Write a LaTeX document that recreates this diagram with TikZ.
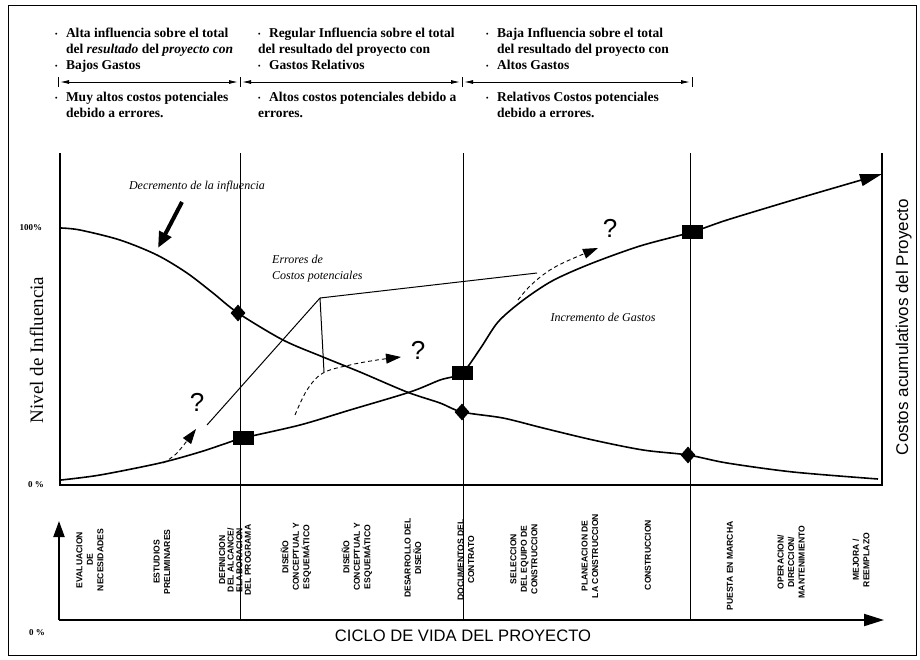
\documentclass[tikz,border=0pt]{standalone}
\usepackage{fontspec}
\setmainfont{Liberation Serif}
\newfontfamily\arialf{Liberation Sans}
\usetikzlibrary{arrows.meta,shapes.geometric}
\newcommand\tbul{\makebox[0.8em][l]{\raisebox{0.2ex}{\fontsize{7}{7}\selectfont\textbullet}}}
\newcommand\tind{\hspace*{0.8em}}
\begin{document}
\begin{tikzpicture}[x=1pt,y=-1pt,
  curve/.style={line width=1.6pt, line join=round},
  thinline/.style={line width=1pt},
  divider/.style={line width=0.9pt},
  axisline/.style={line width=1.4pt},
  dasharrow/.style={dash pattern=on 4pt off 3pt, line width=0.9pt, -{Triangle[length=15pt,width=10pt]}},
  diam/.style={diamond, fill=black, inner sep=0pt, minimum width=15pt, minimum height=17pt},
  sq/.style={rectangle, fill=black, inner sep=0pt, minimum width=21pt, minimum height=14pt},
  toptext/.style={align=left, anchor=north west, inner sep=0pt, font=\bfseries\fontsize{13.5}{16}\selectfont},
  phase/.style={rotate=90, align=center, inner sep=0pt, font=\arialf\bfseries\fontsize{8.6}{10.5}\selectfont},
  qmark/.style={font=\arialf\fontsize{26}{26}\selectfont, inner sep=0pt},
  note/.style={font=\itshape\fontsize{12}{16}\selectfont, inner sep=0pt},
  pct/.style={font=\bfseries\fontsize{9}{9}\selectfont, inner sep=0pt},
  toparrow/.style={line width=0.9pt, {Latex[length=9pt,width=4pt]}-{Latex[length=9pt,width=4pt]}, shorten <=2pt, shorten >=2pt},
  bigarrow/.style={line width=2pt, -{Triangle[length=20pt,width=12pt]}},
  uparrow/.style={line width=2pt, -{Triangle[length=16pt,width=11pt]}}
]
\useasboundingbox (0,0) rectangle (920,659);
\fill[white] (0,0) rectangle (920,659);
% outer frame
\draw[line width=1pt] (8,5) rectangle (916,655);

% ---------- top texts ----------
\node[toptext] (b1a) at (55,28) {\tbul Alta influencia sobre el total\\
\tind del \textit{resultado} del \textit{proyecto con}\\
\tbul Bajos Gastos};
\node[toptext] (b1b) at (55,92) {\tbul Muy altos costos potenciales\\
\tind debido a errores.};
\node[toptext] (b2a) at (258,28) {\tbul Regular Influencia sobre el total\\
del resultado del proyecto con\\
\tbul Gastos Relativos};
\node[toptext] (b2b) at (258,92) {\tbul Altos costos potenciales debido a\\
errores.};
\node[toptext] (b3a) at (486,28) {\tbul Baja Influencia sobre el total\\
\tind del resultado del proyecto con\\
\tbul Altos Gastos};
\node[toptext] (b3b) at (486,92) {\tbul Relativos Costos potenciales\\
\tind debido a errores.};

% top dimension arrows
\coordinate (t0) at (58,82);
\coordinate (t1) at (240,82);
\coordinate (t2) at (462,82);
\coordinate (t3) at (692,82);
\foreach \t in {t0,t1,t2,t3} \draw[line width=0.9pt] (\t) ++(0,-5) -- ++(0,10);
\draw[toparrow] (t0) -- (t1);
\draw[toparrow] (t1) -- (t2);
\draw[toparrow] (t2) -- (t3);

% ---------- chart frame ----------
\coordinate (ctl) at (60,153);
\coordinate (cbl) at (60,485);
\coordinate (cbr) at (882,485);
\coordinate (ctr) at (882,153);
\draw[axisline] (ctl) -- (cbl) -- (cbr) -- (ctr);
\foreach \x in {240,463,690} \draw[divider] (\x,153) -- (\x,620);

% axis labels
\node[rotate=90, anchor=base, inner sep=0pt, font=\fontsize{19}{19}\selectfont] (ylab) at (43,350) {Nivel de Influencia};
\node[rotate=90, anchor=base, inner sep=0pt, font=\arialf\fontsize{17}{17}\selectfont] (ylab2) at (908,327) {Costos acumulativos del Proyecto};
\node[pct] (p100) at (31,228) {100\%};
\node[pct] (p0) at (36,485) {0 \%};
\node[pct] (p0b) at (37,633) {0 \%};

% ---------- marker positions ----------
\coordinate (d1) at (238,313);
\coordinate (d2) at (462,412);
\coordinate (d3) at (688,455);
\coordinate (s1) at (243,438);
\coordinate (s2) at (462,373);
\coordinate (s3) at (692,232);

% influence curve
\draw[curve] plot[smooth, tension=0.5] coordinates {(61,228) (80,230) (120,240) (157,255) (187,273) (213,293) (d1) (283,340) (323,357) (360,372) (407,392) (440,403) (d2) (503,418) (543,428) (593,440) (643,450) (d3) (727,463) (793,472) (878,479)};

% cost curve
\draw[curve, -{Triangle[length=22pt,width=12pt]}] plot[smooth, tension=0.5] coordinates {(61,480) (100,475) (160,463) (200,452) (227,443) (s1) (300,425) (350,410) (410,392) (440,380) (s2) (480,349) (498,322) (522,301) (552,281) (590,264) (640,246) (s3) (727,220) (793,200) (827,190) (882,174)};

% errors line
\coordinate (e0) at (207,425);
\coordinate (e1) at (320,298);
\coordinate (e2) at (537,273);
\coordinate (e3) at (324,372);
\draw[thinline] (e0) -- (e1) -- (e2);
\draw[thinline] (e1) -- (e3);

% dashed arrows
\draw[dasharrow] plot[smooth, tension=0.5] coordinates {(163,463) (177,453) (196,429)};
\draw[dasharrow] plot[smooth, tension=0.6] coordinates {(295,415) (307,390) (323,373) (350,365) (377,360) (401,357)};
\draw[dasharrow] plot[smooth, tension=0.6] coordinates {(518,300) (530,286) (547,272) (565,262) (598,248)};

% question marks
\node[qmark] (q1) at (197,402) {?};
\node[qmark] (q2) at (418,350) {?};
\node[qmark] (q3) at (610,228) {?};

% markers
\node[diam] (D1) at (d1) {};
\node[diam] (D2) at (d2) {};
\node[diam] (D3) at (d3) {};
\node[sq] (S1) at (s1) {};
\node[sq] (S2) at (s2) {};
\node[sq] (S3) at (s3) {};

% notes
\node[note] (dec) at (197,187) {Decremento de la influencia};
\coordinate (da0) at (182,202);
\coordinate (da1) at (158,248);
\draw[line width=4pt, -{Triangle[length=16pt,width=13pt]}] (da0) -- (da1);
\node[note, align=left, anchor=north west] (err) at (272,255) {Errores de\\Costos potenciales};
\node[note] (inc) at (603,317) {Incremento de Gastos};

% ---------- bottom axis ----------
\coordinate (o) at (59,620);
\coordinate (xend) at (884,620);
\coordinate (yend) at (59,521);
\draw[bigarrow] (o) -- (xend);
\draw[uparrow] (o) -- (yend);
\node[anchor=base, inner sep=0pt, font=\arialf\fontsize{16.6}{16.6}\selectfont] (ciclo) at (463,641) {CICLO DE VIDA DEL PROYECTO};

% phases
\node[phase] (ph1) at (90,560) {EVALUACION\\DE\\NECESIDADES};
\node[phase] (ph2) at (162,562) {ESTUDIOS\\PRELIMINARES};
\node[phase, font=\arialf\bfseries\fontsize{8.6}{8.6}\selectfont] (ph3) at (235,560) {DEFINICION\\DEL ALCANCE/\\ELABORACION\\DEL PROGRAMA};
\node[phase] (ph4) at (296,557) {DISEÑO\\CONCEPTUAL Y\\ESQUEMÁTICO};
\node[phase] (ph5) at (357,557) {DISEÑO\\CONCEPTUAL Y\\ESQUEMÁTICO};
\node[phase] (ph6) at (413,558) {DESARROLLO DEL\\DISEÑO};
\node[phase] (ph7) at (466,560) {DOCUMENTOS DEL\\CONTRATO};
\node[phase] (ph8) at (524,559) {SELECCION\\DEL EQUIPO DE\\CONSTRUCCION};
\node[phase] (ph9) at (590,556) {PLANEACION DE\\LA CONSTRUCCION};
\node[phase] (ph10) at (648,555) {CONSTRUCCION};
\node[phase] (ph11) at (730,566) {PUESTA EN MARCHA};
\node[phase] (ph12) at (791,562) {OPERACION/\\DIRECCION/\\MANTENIMIENTO};
\node[phase] (ph13) at (861,560) {MEJORA /\\REEMPLAZO};
\end{tikzpicture}
\end{document}
